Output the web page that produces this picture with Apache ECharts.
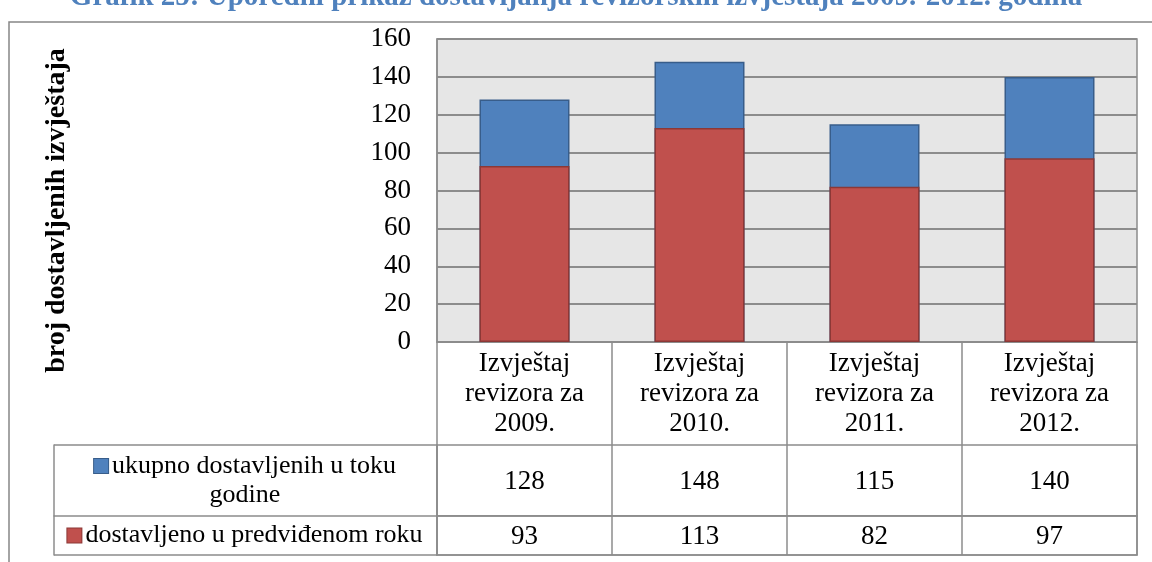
<!DOCTYPE html>
<html>
<head>
<meta charset="utf-8">
<script src="https://cdn.jsdelivr.net/npm/echarts@6/dist/echarts.min.js"></script>
<style>
  html, body { margin: 0; padding: 0; background: #fff; }
  #chart { width: 1152px; height: 562px; }
</style>
</head>
<body>
<div id="chart"></div>
<script>
// data
var categories = ['Izvještaj\nrevizora za\n2009.', 'Izvještaj\nrevizora za\n2010.', 'Izvještaj\nrevizora za\n2011.', 'Izvještaj\nrevizora za\n2012.'];
var seriesNames = ['ukupno dostavljenih u toku godine', 'dostavljeno u predviđenom roku'];
var tableLabels = ['ukupno dostavljenih u toku\ngodine', 'dostavljeno u predviđenom roku'];
var totalDelivered = [128, 148, 115, 140];
var onTimeDelivered = [93, 113, 82, 97];
var yMin = 0, yMax = 160, yStep = 20;

var FONT = 'Liberation Serif';
var LINE = '#8c8c8c';
var colors = ['#4f81bd', '#c0504d'];
var borders = ['#385d8a', '#8c3836'];

function legendCell(idx) {
  var lines = tableLabels[idx].split('\n');
  var out = '{sq' + idx + '|}{gap|}' + '{t|' + lines[0] + '}';
  for (var i = 1; i < lines.length; i++) out += '\n{t|' + lines[i] + '}';
  return out;
}

var rich = {
  sq0: { width: 14, height: 14, backgroundColor: colors[0], borderColor: borders[0], borderWidth: 1 },
  sq1: { width: 14, height: 14, backgroundColor: colors[1], borderColor: borders[1], borderWidth: 1 },
  gap: { width: 4 },
  t: { fontFamily: FONT, fontSize: 26, color: '#000', lineHeight: 29 }
};

function tableAxes(g, idx) {
  return [
    {
      gridIndex: g, type: 'category', data: [tableLabels[idx]],
      axisLine: { show: true, lineStyle: { color: LINE, width: 1.5 } },
      axisTick: { show: true, length: 383, lineStyle: { color: LINE, width: 1.5 } },
      axisLabel: {
        margin: 192, align: 'center', verticalAlign: 'middle',
        formatter: function () { return legendCell(idx); }, rich: rich
      },
      splitLine: { show: false }
    },
    {
      gridIndex: g, type: 'category', data: [''], position: 'left', offset: 383,
      axisLine: { show: true, lineStyle: { color: LINE, width: 1.5 } },
      axisTick: { show: false }, axisLabel: { show: false }
    }
  ];
}

function tableX(g) {
  return {
    gridIndex: g, type: 'category', data: categories,
    axisLine: { show: true, lineStyle: { color: LINE, width: 1.5 } },
    axisTick: { show: false }, axisLabel: { show: false },
    splitLine: { show: true, lineStyle: { color: LINE, width: 1.5 } }
  };
}

function valueCells(values, xi, yi) {
  return {
    type: 'custom', xAxisIndex: xi, yAxisIndex: yi, silent: true,
    data: values.map(function (v, i) { return [i, 0, v]; }),
    renderItem: function (params, api) {
      var p = api.coord([api.value(0), api.value(1)]);
      return {
        type: 'text', x: p[0], y: p[1] + 1,
        style: { text: String(api.value(2)), align: 'center', verticalAlign: 'middle',
                 fontFamily: FONT, fontSize: 27, fill: '#000' }
      };
    }
  };
}

var yAxes = [{
  gridIndex: 0, type: 'value', min: yMin, max: yMax, interval: yStep,
  name: 'broj dostavljenih izvještaja', nameLocation: 'middle', nameGap: 366, nameRotate: 90,
  nameTextStyle: { fontFamily: FONT, fontSize: 28, fontWeight: 'bold', color: '#000', padding: [0, 40, 0, 0] },
  axisLine: { show: true, lineStyle: { color: LINE, width: 1.5 } },
  axisTick: { show: false },
  axisLabel: { fontFamily: FONT, fontSize: 27, color: '#000', margin: 26 },
  splitLine: { show: true, lineStyle: { color: LINE, width: 2 } }
}].concat(tableAxes(1, 0), tableAxes(2, 1));

var option = {
  animation: false,
  backgroundColor: '#fff',
  color: colors,
  title: {
    text: 'Grafik 25: Uporedni prikaz dostavljanja revizorskih izvještaja 2009.-2012. godina',
    left: 'center', top: -22,
    textStyle: { fontFamily: FONT, fontSize: 29, fontWeight: 'bold', color: '#4f81bd' }
  },
  graphic: [{
    type: 'rect', z: -1, silent: true,
    shape: { x: 9, y: 22, width: 1300, height: 700 },
    style: { fill: 'none', stroke: '#868686', lineWidth: 1.5 }
  }],
  grid: [
    { left: 437, right: 15, top: 39, height: 303, show: true, backgroundColor: '#e6e6e6', borderColor: LINE, borderWidth: 1.5 },
    { left: 437, right: 15, top: 445, height: 71, show: true, backgroundColor: '#fff', borderColor: LINE, borderWidth: 1.5 },
    { left: 437, right: 15, top: 516, height: 39, show: true, backgroundColor: '#fff', borderColor: LINE, borderWidth: 1.5 }
  ],
  xAxis: [
    {
      gridIndex: 0, type: 'category', data: categories,
      axisLine: { show: true, lineStyle: { color: LINE, width: 1.5 } },
      axisTick: { show: true, length: 103, lineStyle: { color: LINE, width: 1.5 } },
      axisLabel: { fontFamily: FONT, fontSize: 27, lineHeight: 30, color: '#000', margin: 7, interval: 0 }
    },
    tableX(1),
    tableX(2)
  ],
  yAxis: yAxes,
  series: [
    {
      name: seriesNames[0], type: 'bar', xAxisIndex: 0, yAxisIndex: 0,
      barWidth: 90, barGap: '-100%',
      itemStyle: { color: colors[0], borderColor: borders[0], borderWidth: 1.5 },
      data: totalDelivered
    },
    {
      name: seriesNames[1], type: 'bar', xAxisIndex: 0, yAxisIndex: 0,
      barWidth: 90, barGap: '-100%',
      itemStyle: { color: colors[1], borderColor: borders[1], borderWidth: 1.5 },
      data: onTimeDelivered
    },
    valueCells(totalDelivered, 1, 1),
    valueCells(onTimeDelivered, 2, 3)
  ]
};

var chart = echarts.init(document.getElementById('chart'));
chart.setOption(option);
</script>
</body>
</html>
